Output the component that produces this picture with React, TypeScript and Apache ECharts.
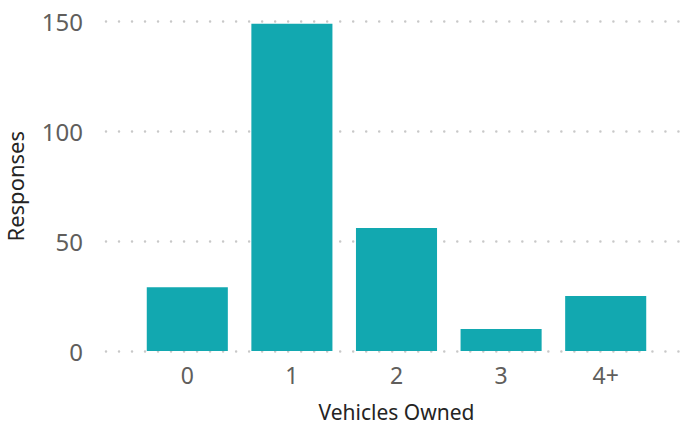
import React, { useEffect, useRef } from "react";
import * as echarts from "echarts";

const categories = ["0", "1", "2", "3", "4+"];
const responses = [29, 149, 56, 10, 25];
const yTicks = { min: 0, max: 150, interval: 50 };

export default function App() {
  const ref = useRef<HTMLDivElement>(null);
  useEffect(() => {
    if (!ref.current) return;
    const chart = echarts.init(ref.current, undefined, { renderer: "svg" });
    const font = "Noto Sans";
    chart.setOption({
      animation: false,
      textStyle: { fontFamily: font },
      grid: [
        { left: 106, right: 0, top: 21.5, bottom: 75, containLabel: false, outerBoundsMode: "none" },
        { left: 135, right: 31, top: 21.5, bottom: 75, containLabel: false, outerBoundsMode: "none" },
      ],
      xAxis: [
        { type: "category", gridIndex: 0, data: categories, show: false },
        {
          type: "category",
          gridIndex: 1,
          data: categories,
          axisLine: { show: false },
          axisTick: { show: false },
          axisLabel: { color: "#605E5C", fontSize: 23, margin: 12, fontFamily: font },
          name: "Vehicles Owned",
          nameLocation: "middle",
          nameGap: 61,
          nameTextStyle: { color: "#252423", fontSize: 21, lineHeight: 20, fontFamily: font, verticalAlign: "middle" },
        },
      ],
      yAxis: [
        {
          type: "value",
          gridIndex: 0,
          min: yTicks.min,
          max: yTicks.max,
          interval: yTicks.interval,
          axisLine: { show: false },
          axisTick: { show: false },
          axisLabel: { color: "#605E5C", fontSize: 24, margin: 23, fontFamily: font },
          splitLine: { lineStyle: { color: "#C8C8C8", width: 2.5, type: [0.01, 13], cap: "round" } },
          name: "Responses",
          nameLocation: "middle",
          nameGap: 81,
          nameRotate: 90,
          nameTextStyle: { color: "#252423", fontSize: 22, lineHeight: 20, fontFamily: font },
        },
        {
          type: "value",
          gridIndex: 1,
          min: yTicks.min,
          max: yTicks.max,
          interval: yTicks.interval,
          show: false,
          splitLine: { show: false },
        },
      ],
      series: [
        {
          type: "bar",
          xAxisIndex: 1,
          yAxisIndex: 1,
          data: responses,
          barCategoryGap: "22.5%",
          itemStyle: { color: "#12A8B0" },
        },
      ],
    });
    return () => chart.dispose();
  }, []);
  return <div ref={ref} style={{ width: 689, height: 426, position: "absolute", left: 0, top: 0 }} />;
}
